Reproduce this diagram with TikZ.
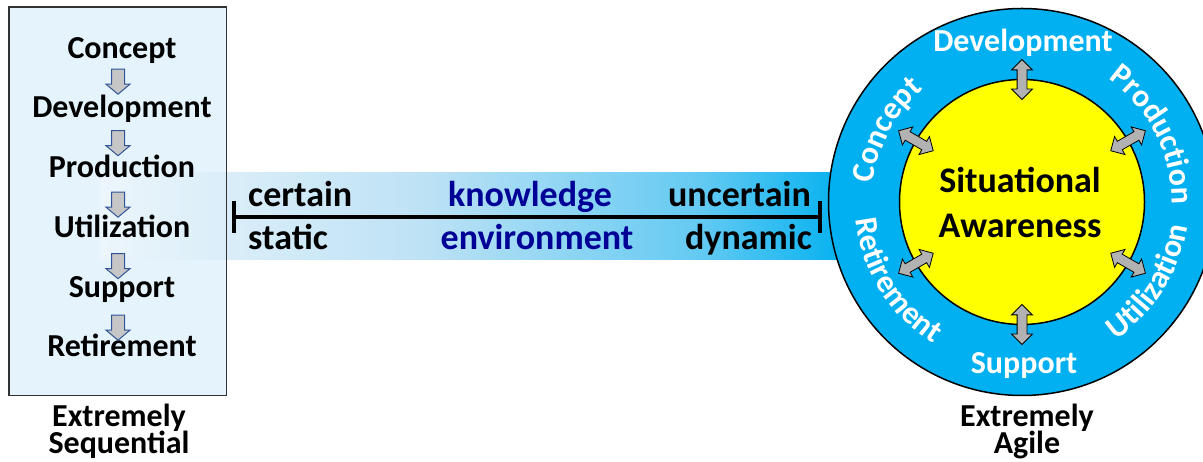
\documentclass[tikz,border=0pt]{standalone}
\usepackage{fontspec}
\setmainfont{Carlito}
\usetikzlibrary{shapes.arrows,decorations.text}

\definecolor{boxfill}{RGB}{229,244,252}
\definecolor{boxline}{RGB}{50,50,50}
\definecolor{ringblue}{RGB}{0,176,240}
\definecolor{sunny}{RGB}{255,255,0}
\definecolor{navytext}{RGB}{0,0,150}
\definecolor{stepline}{RGB}{47,85,151}
\definecolor{bandA}{RGB}{236,245,251}
\definecolor{bandB}{RGB}{190,226,245}
\definecolor{bandC}{RGB}{100,202,242}

\newcommand\bigbold{\fontsize{32}{27}\selectfont\bfseries}
\newcommand\hugebold{\fontsize{36}{30}\selectfont\bfseries}

\tikzset{
  lbl/.style={font=\bigbold, inner sep=0pt, anchor=base},
  bandlbl/.style={font=\hugebold, inner sep=0pt, anchor=base},
  steptext/.style={lbl},
  downarrow/.style={single arrow, shape border rotate=270, draw=stepline, fill=gray!45,
    line width=1pt, inner sep=6pt, single arrow head extend=5.5pt,
    single arrow tip angle=100, minimum height=25pt},
  swaparrow/.style={double arrow, draw=black, fill=gray!60, line width=0.8pt,
    inner sep=4.5pt, double arrow head extend=5.5pt, minimum height=40pt},
  ringtext/.style={decorate, decoration={text along path, text align=center,
    text color=white, text={|\bigbold|#1}}},
  barline/.style={line width=3.2pt, black}
}

\begin{document}
\begin{tikzpicture}[x=1pt,y=1pt]
\useasboundingbox (0,0) rectangle (1203,462);

% sequential life-cycle box
\node (box) [fill=boxfill, minimum width=217pt, minimum height=388pt,
  inner sep=0pt, anchor=north west] at (9,455) {};

% knowledge / environment band
\fill[left color=bandA, right color=bandB] (100,202) rectangle (420,289);
\fill[left color=bandB, right color=bandC] (419.5,202) rectangle (700,289);
\fill[left color=bandC, right color=ringblue] (699.5,202) rectangle (850,289);

\draw[boxline, line width=1.5pt] (box.south west) rectangle (box.north east);

% stages, top to bottom
\node[steptext] (s1) at (122,403) {Concept};
\node[steptext] (s2) at (122,344) {Development};
\node[steptext] (s3) at (122,284) {Production};
\node[steptext] (s4) at (122,224) {Utilization};
\node[steptext] (s5) at (122,164) {Support};
\node[steptext] (s6) at (122,105) {Retirement};

\node[downarrow] (a1) at (118,383) {};
\node[downarrow] (a2) at (118,321.5) {};
\node[downarrow] (a3) at (118,260) {};
\node[downarrow] (a4) at (118,198.5) {};
\node[downarrow] (a5) at (118,137) {};

\node[lbl] (seq1) at (119,35) {Extremely};
\node[lbl] (seq2) at (119,8) {Sequential};

% scale bar
\coordinate (barL) at (234,245);
\coordinate (barR) at (820,245);
\draw[barline] (barL) -- (barR);
\draw[barline] ([yshift=16pt]barL) -- ([yshift=-16pt]barL);
\draw[barline] ([yshift=16pt]barR) -- ([yshift=-16pt]barR);

\node[bandlbl, anchor=base west] (certain) at (248,255) {certain};
\node[bandlbl, text=navytext] (knowledge) at (530,255) {knowledge};
\node[bandlbl, anchor=base east] (uncertain) at (811,255) {uncertain};
\node[bandlbl, anchor=base west] (static) at (248,212) {static};
\node[bandlbl, text=navytext] (environment) at (537,212) {environment};
\node[bandlbl, anchor=base east] (dynamic) at (812,212) {dynamic};

% agile ring
\coordinate (c) at (1022,260);
\node (outer) [circle, draw=black, line width=1.5pt, fill=ringblue,
  minimum size=387pt, inner sep=0pt] at (c) {};
\node (inner) [circle, draw=black, line width=1.5pt, fill=sunny,
  minimum size=245pt, inner sep=0pt] at (c) {};

\node[bandlbl] (sa1) at (1020,269) {Situational};
\node[bandlbl] (sa2) at (1020,224) {Awareness};

\node[lbl, text=white] (rdev) at (1023,410) {Development};
\node[lbl, text=white] (rsup) at (1024,88) {Support};

\path[ringtext=Concept] ([shift={(190:150)}]c) arc[start angle=190, end angle=114, radius=150];
\path[ringtext=Production] ([shift={(67:150)}]c) arc[start angle=67, end angle=-13, radius=150];
\path[ringtext=Retirement] ([shift={(172:167)}]c) arc[start angle=172, end angle=252, radius=167];
\path[ringtext=Utilization] ([shift={(288:167)}]c) arc[start angle=288, end angle=368, radius=167];

% exchange arrows across the inner rim
\foreach \ang [count=\i] in {90,30,150,210,270,330}
  \node[swaparrow, rotate=\ang] (x\i) at ([shift={(\ang:122.5)}]c) {};

\node[lbl] (ag1) at (1027,35) {Extremely};
\node[lbl] (ag2) at (1027,8) {Agile};
\end{tikzpicture}
\end{document}
